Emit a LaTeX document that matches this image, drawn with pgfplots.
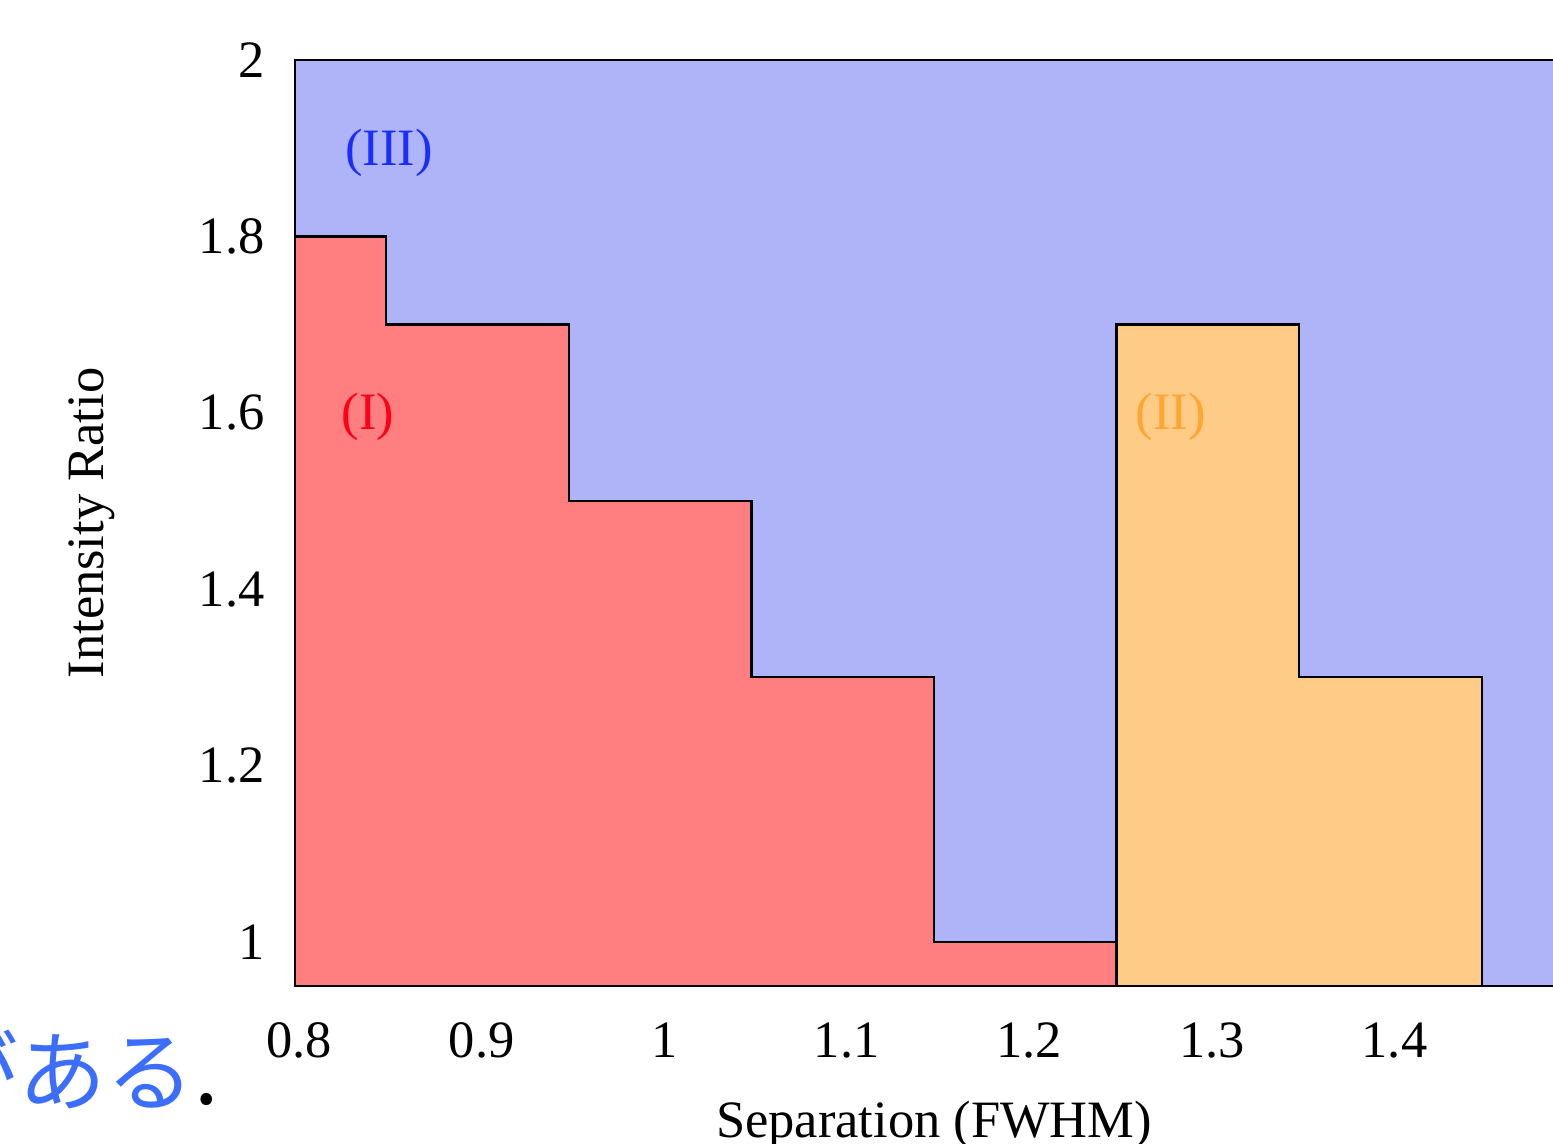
\documentclass[border=0pt]{standalone}
\usepackage{fontspec}
\setmainfont{Liberation Serif}
\newfontfamily\cjk{Noto Sans CJK JP}
\usepackage{pgfplots}
\pgfplotsset{compat=1.18}

\definecolor{bgblue}{RGB}{175,180,249}
\definecolor{regred}{RGB}{255,126,128}
\definecolor{regorange}{RGB}{255,204,135}
\definecolor{txtblue}{RGB}{25,45,255}
\definecolor{txtred}{RGB}{255,0,25}
\definecolor{txtorange}{RGB}{255,165,50}
\definecolor{jpblue}{RGB}{59,110,255}

\begin{document}
\fontsize{10.5}{12.6}\selectfont
\begin{tikzpicture}
% the reference is a crop: keep the same window
\path[use as bounding box] (-59pt,-31.4pt) rectangle (251.6pt,197.2pt);
\clip (-59pt,-31.4pt) rectangle (251.6pt,197.2pt);
\begin{axis}[
    at={(0,0)}, anchor=south west,
    scale only axis,
    width=255.6pt, height=185.2pt,
    xmin=0.8, xmax=1.5,
    ymin=0.95, ymax=2,
    xtick={0.8,0.9,1,1.1,1.2,1.3,1.4},
    ytick={1,1.2,1.4,1.6,1.8,2},
    major tick length=0pt,
    tick style={draw=none},
    axis on top,
    /pgf/number format/assume math mode=true,
    xticklabel style={yshift=-3.7pt, xshift=0.8pt},
    yticklabel style={xshift=-2.4pt},
    xlabel={Separation (FWHM)},
    ylabel={Intensity Ratio},
    xlabel style={at={(axis description cs:0.5,-0.1631)}, anchor=base},
    ylabel style={at={(axis description cs:-0.1502,0.5)}, anchor=base},
]
% region (III): everything else
\addplot[fill=bgblue, draw=none] coordinates {
    (0.8,0.95) (0.8,2) (1.5,2) (1.5,0.95)} --cycle;
% region (I)
\addplot[fill=regred, draw=black, line width=0.45pt] coordinates {
    (0.8,0.95) (0.8,1.8) (0.85,1.8) (0.85,1.7) (0.95,1.7) (0.95,1.5)
    (1.05,1.5) (1.05,1.3) (1.15,1.3) (1.15,1.0) (1.25,1.0) (1.25,0.95)} --cycle;
% region (II)
\addplot[fill=regorange, draw=black, line width=0.45pt] coordinates {
    (1.25,0.95) (1.25,1.7) (1.35,1.7) (1.35,1.3) (1.45,1.3) (1.45,0.95)} --cycle;

\node[text=txtblue] at (axis cs:0.8515,1.895) {(III)};
\node[text=txtred] at (axis cs:0.84,1.595) {(I)};
\node[text=txtorange] at (axis cs:1.2797,1.595) {(II)};
\end{axis}
\node[anchor=base west, inner sep=0pt, font=\cjk\fontsize{17.6}{20}\selectfont]
    at (-73pt,-23.6pt) {\textcolor{jpblue}{がある}.};
\end{tikzpicture}
\end{document}
